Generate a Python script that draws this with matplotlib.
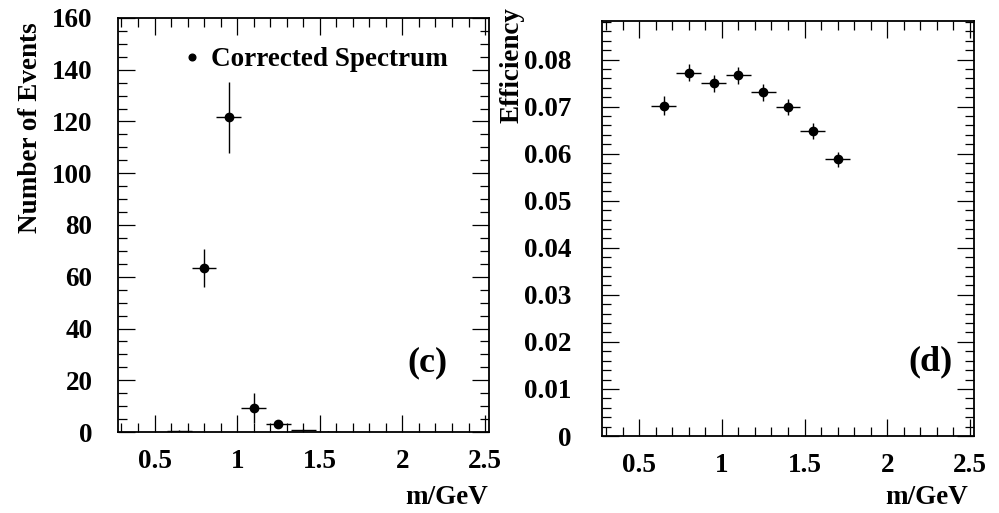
import matplotlib
matplotlib.use("Agg")
import matplotlib.pyplot as plt
from matplotlib.lines import Line2D
from matplotlib.ticker import MultipleLocator, FuncFormatter

# ---------------- data ----------------
mass_centers = [0.65, 0.80, 0.95, 1.10, 1.25, 1.40, 1.55]
mass_halfwidth = 0.075
events = [0.4, 63.3, 121.6, 9.1, 2.9, 0.7, 0.15]
events_err = [0.3, 7.3, 13.7, 5.8, 1.2, 0.5, 0.1]

eff_centers = [0.65, 0.80, 0.95, 1.10, 1.25, 1.40, 1.55, 1.70]
efficiency = [0.0702, 0.0772, 0.0750, 0.0767, 0.0731, 0.0700, 0.0648, 0.0588]
efficiency_err = [0.0020, 0.0018, 0.0018, 0.0018, 0.0018, 0.0017, 0.0017, 0.0016]

x_ticks = [0.5, 1, 1.5, 2, 2.5]
events_ticks = [0, 20, 40, 60, 80, 100, 120, 140, 160]
eff_ticks = [0, 0.01, 0.02, 0.03, 0.04, 0.05, 0.06, 0.07, 0.08]

# ---------------- style ----------------
FONT = "Liberation Serif"
FS = 19.5
plt.rcParams["font.family"] = [FONT, "DejaVu Serif"]
plt.rcParams["font.weight"] = "bold"

W, H = 999, 513
fig = plt.figure(figsize=(W / 100, H / 100), dpi=100)

def px_axes(x0, y0, x1, y1):
    return fig.add_axes([x0 / W, 1 - y1 / H, (x1 - x0) / W, (y1 - y0) / H])

axL = px_axes(117.5, 18, 489, 432)
axR = px_axes(602, 21, 974, 436)

def num_fmt(v, pos):
    if abs(v) < 1e-12:
        return "0"
    s = ("%.2f" % v).rstrip("0").rstrip(".")
    return s

for ax in (axL, axR):
    ax.set_xlim(0.276, 2.524)
    ax.xaxis.set_major_locator(MultipleLocator(0.5))
    ax.xaxis.set_minor_locator(MultipleLocator(0.1))
    ax.set_xticks(x_ticks)
    ax.xaxis.set_major_formatter(FuncFormatter(num_fmt))
    ax.tick_params(axis="both", which="both", direction="in", top=True, right=True,
                   width=0.9, labelsize=FS)
    ax.tick_params(axis="both", which="major", length=12.5)
    ax.tick_params(axis="both", which="minor", length=6.2)
    ax.tick_params(axis="x", which="major", pad=12)
    for sp in ax.spines.values():
        sp.set_linewidth(1.3)

# ---------------- left panel ----------------
axL.set_ylim(0, 160)
axL.set_yticks(events_ticks)
axL.yaxis.set_minor_locator(MultipleLocator(5))
axL.yaxis.set_major_formatter(FuncFormatter(num_fmt))
axL.tick_params(axis="y", which="major", pad=18)

axL.errorbar(mass_centers, events, xerr=mass_halfwidth, yerr=events_err,
             fmt="none", ecolor="black", elinewidth=1.0, capsize=0, zorder=3)
vis = [(x, y) for x, y in zip(mass_centers, events) if y > 1]
axL.plot([v[0] for v in vis], [v[1] for v in vis], "o", color="black",
         markersize=6, zorder=4)

handle = Line2D([], [], marker="o", color="black", linestyle="none", markersize=4.8)
leg = axL.legend([handle], ["Corrected Spectrum"], loc="center left",
                 bbox_to_anchor=(0.179, 0.8986), frameon=False, borderpad=0,
                 borderaxespad=0, handlelength=0.6, handletextpad=0.4,
                 prop={"family": FONT, "weight": "bold", "size": FS})

axL.text((427 - 117.5) / 371.5, (432 - 363) / 414, "(c)", transform=axL.transAxes,
         ha="center", va="center", fontsize=26, fontweight="bold")

# ---------------- right panel ----------------
axR.set_ylim(0, 0.0882)
axR.set_yticks(eff_ticks)
axR.yaxis.set_minor_locator(MultipleLocator(0.002))
axR.yaxis.set_major_formatter(FuncFormatter(num_fmt))
axR.tick_params(axis="y", which="major", pad=22)

axR.errorbar(eff_centers, efficiency, xerr=mass_halfwidth, yerr=efficiency_err,
             fmt="o", color="black", ecolor="black", elinewidth=1.0, capsize=0,
             markersize=6, zorder=3)

axR.text((930 - 602) / 372, (436 - 362) / 415, "(d)", transform=axR.transAxes,
         ha="center", va="center", fontsize=26, fontweight="bold")

for ax in (axL, axR):
    for lab in ax.get_xticklabels() + ax.get_yticklabels():
        lab.set_fontweight("bold")

# ---------------- axis titles ----------------
fig.text(30.5 / W, 1 - 22 / H, "Number of Events", rotation=90, ha="center", va="top",
         fontsize=FS, fontweight="bold")
fig.text(512 / W, 1 - 7 / H, "Efficiency", rotation=90, ha="center", va="top",
         fontsize=FS, fontweight="bold")
fig.text(488 / W, 1 - 498 / H, "m/GeV", ha="right", va="center",
         fontsize=FS, fontweight="bold")
fig.text(968 / W, 1 - 497 / H, "m/GeV", ha="right", va="center",
         fontsize=FS, fontweight="bold")

fig.savefig("out.png", dpi=100)
